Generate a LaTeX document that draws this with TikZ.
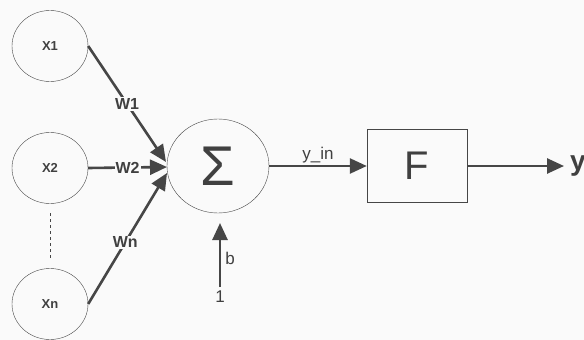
\documentclass[tikz,border=0pt]{standalone}
\usepackage{fontspec}
\setmainfont{Liberation Sans}
\usetikzlibrary{positioning,arrows.meta,shapes.geometric}
\definecolor{nnGray}{RGB}{64,64,64}
\definecolor{nnLine}{RGB}{70,70,70}
\definecolor{nnBack}{RGB}{250,250,250}
\tikzset{
    base/.style={align=center, text=nnGray},
    input/.style={base, ellipse, draw=nnLine, thin, minimum width=76pt, minimum height=71pt,
                  font=\fontsize{13}{13}\selectfont\bfseries},
    summer/.style={base, ellipse, draw=nnLine, thin, minimum width=102pt, minimum height=94pt,
                   font=\fontsize{56}{56}\selectfont},
    activ/.style={base, rectangle, draw=nnLine, thin, minimum width=100pt, minimum height=73pt,
                  font=\fontsize{40}{40}\selectfont},
    flow/.style={-{Triangle[length=17pt,width=15pt]}, line width=2.6pt, color=nnLine},
    weight/.style={base, fill=nnBack, inner sep=1pt, font=\fontsize{16}{16}\selectfont\bfseries},
    label/.style={base, inner sep=1pt, font=\fontsize{17}{17}\selectfont}
}
\begin{document}
\begin{tikzpicture}[x=1pt, y=-1pt]
  \fill[nnBack] (0,0) rectangle (584,340);
  \useasboundingbox (0,0) rectangle (584,340);

  % Inputs
  \node[input] (x1) at (50,46) {X1};
  \node[input] (x2) at (50,168) {X2};
  \node[input] (xn) at (50,304) {Xn};
  \draw[dashed, nnLine] (50,213) coordinate (dtop) -- (50,259) coordinate (dbot);

  % Sum and activation
  \node[summer] (sum) at (218,166) {Σ};
  \node[activ] (f) at (417,166) {F};

  % Weighted inputs
  \coordinate (t1) at (166,162);
  \coordinate (t2) at (167,167);
  \coordinate (tn) at (167,173);
  \draw[flow] (x1.east) -- node[weight] {W1} (t1);
  \draw[flow] (x2.east) -- node[weight] {W2} (t2);
  \draw[flow] (xn.east) -- node[weight, pos=0.47] {Wn} (tn);

  % Bias
  \coordinate (bstart) at (220,287);
  \coordinate (bend) at (220,223);
  \draw[flow] (bstart) -- node[label, right=3pt, pos=0.45] {b} (bend);
  \node[label, below=3pt of bstart] (one) {1};

  % Net input and output
  \draw[flow] (sum.east) -- node[label, above=1pt] {y\_in} (f.west);
  \coordinate (yend) at (564,166);
  \draw[flow] (f.east) -- (yend);
  \node[base, right=6pt of yend, font=\fontsize{28}{28}\selectfont\bfseries, inner sep=0pt] (y) {y};
\end{tikzpicture}
\end{document}
